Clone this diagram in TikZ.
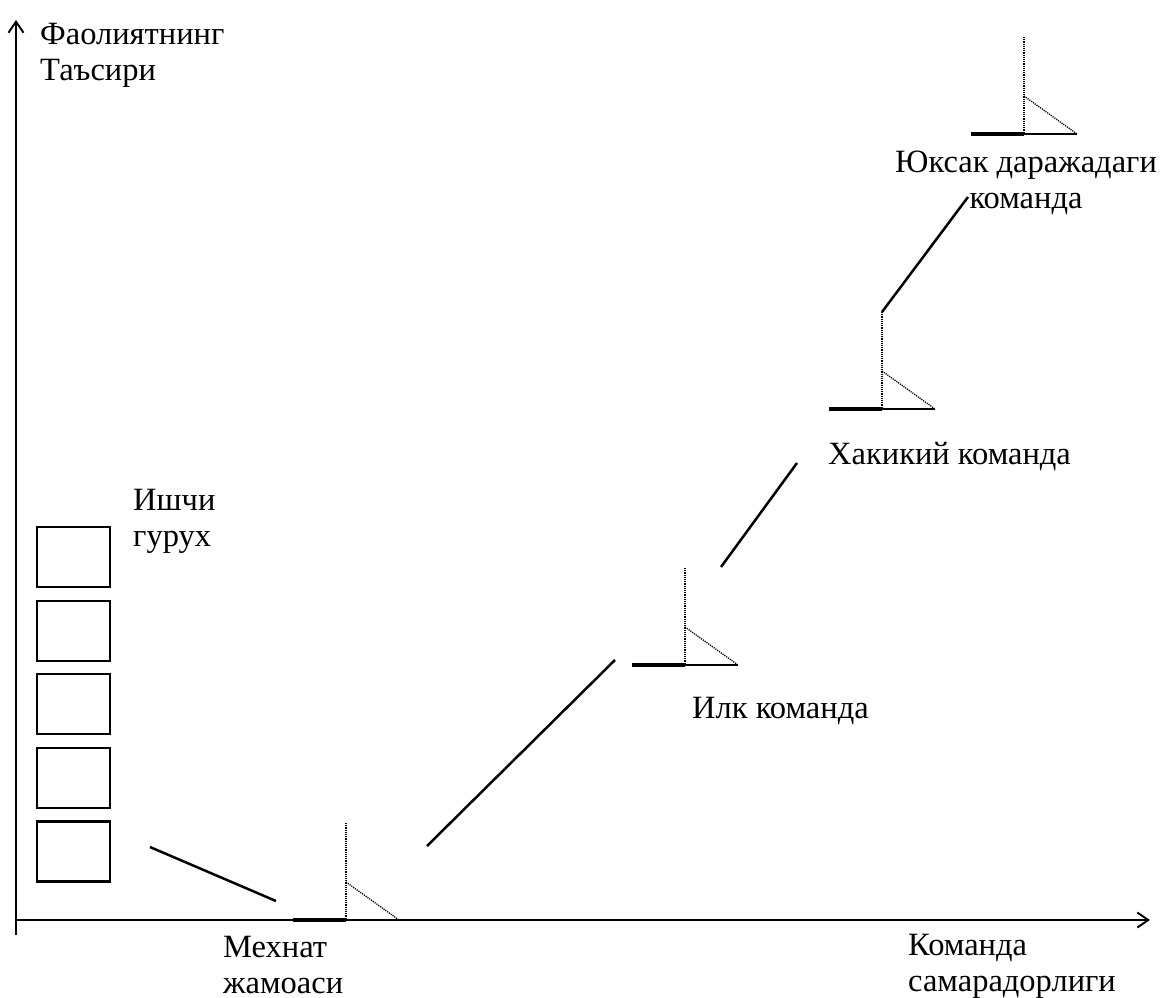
\documentclass[tikz,border=0pt]{standalone}
\usepackage{fontspec}
\setmainfont{Liberation Serif}
\usetikzlibrary{arrows.meta}
\newcommand{\twolines}[2]{\begin{tabular}[t]{@{}l@{}}#1\\#2\end{tabular}}
\newcommand{\twolinesc}[2]{\begin{tabular}[t]{@{}c@{}}#1\\#2\end{tabular}}
\begin{document}
\begin{tikzpicture}[x=1pt,y=-1pt,
  axis/.style={line width=1.9pt,-{Straight Barb[length=11pt,width=15pt,line width=1.9pt]}},
  lbl/.style={font=\fontsize{32.5}{36}\selectfont,inner sep=0pt,anchor=base west},
  clbl/.style={font=\fontsize{32.5}{36}\selectfont,inner sep=0pt,anchor=base},
  boxn/.style={draw,line width=2.6pt,minimum width=73pt,minimum height=60pt,inner sep=0pt},
  conn/.style={line width=2.5pt},
  bar/.style={line width=3.6pt},
  thinbar/.style={line width=2.3pt},
  dots/.style={line width=1.3pt,dash pattern=on 1.2pt off 1pt},
  tee/.pic={
    \draw[thinbar] (0,0) -- (53,0);
    \draw[bar] (-53,0) -- (0,0);
    \draw[dots] (0,-97) -- (0,0);
    \draw[dots] (0,-38) -- (53,0);
    \coordinate (-top) at (0,-97);
  }]
\useasboundingbox (0,0) rectangle (1163,998);
% axes
\coordinate (ybot) at (16,935);
\coordinate (ytop) at (16,20);
\coordinate (xl) at (16,920);
\coordinate (xr) at (1150,920);
\draw[axis] (ybot) -- (ytop);
\draw[axis] (xl) -- (xr);
% axis labels
\node[lbl] (ylab) at (40,45) {\twolines{Фаолиятнинг}{Таъсири}};
\node[lbl] (xlab) at (908,955) {\twolines{Команда}{самарадорлиги}};
% boxes
\node[boxn] (b1) at (73.5,557) {};
\node[boxn] (b2) at (73.5,631) {};
\node[boxn] (b3) at (73.5,704) {};
\node[boxn] (b4) at (73.5,778) {};
\node[boxn] (b5) at (73.5,851.5) {};
\node[lbl] (ishchi) at (133,510) {\twolines{Ишчи}{гурух}};
% symbols
\pic (s1) at (346,920) {tee};
\pic (s2) at (685,665) {tee};
\pic (s3) at (882,409) {tee};
\pic (s4) at (1024,134) {tee};
% labels
\node[lbl] (mekhnat) at (223,957) {\twolines{Мехнат}{жамоаси}};
\node[lbl] (ilk) at (692,718) {Илк команда};
\node[lbl] (hak) at (828,464) {Хакикий команда};
\node[clbl] (yuk) at (1026,172) {\twolinesc{Юксак даражадаги}{команда}};
% connectors
\coordinate (c1a) at (150,847);
\coordinate (c1b) at (276,901);
\coordinate (c2a) at (427,846);
\coordinate (c2b) at (615,660);
\coordinate (c3a) at (721,567);
\coordinate (c3b) at (797,463);
\coordinate (c4b) at (968,197);
\draw[conn] (c1a) -- (c1b);
\draw[conn] (c2a) -- (c2b);
\draw[conn] (c3a) -- (c3b);
\draw[conn] (s3-top) -- (c4b);
\end{tikzpicture}
\end{document}
